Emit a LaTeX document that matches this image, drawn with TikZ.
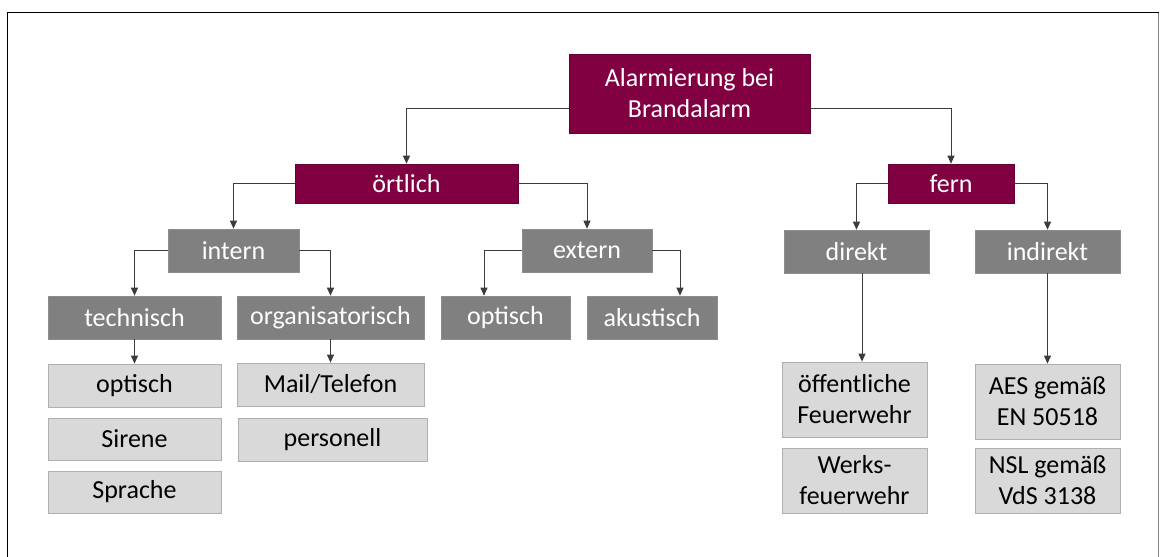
\documentclass[tikz,border=0pt]{standalone}
\usepackage{fontspec}
\setmainfont{Carlito}
\usetikzlibrary{arrows.meta,positioning,calc}
\definecolor{maroon}{RGB}{128,0,66}
\definecolor{darkgr}{RGB}{128,128,128}
\definecolor{lightgr}{RGB}{217,217,217}
\definecolor{lightbd}{RGB}{175,175,175}
\definecolor{conncol}{RGB}{60,60,60}
\tikzset{
  base/.style={rectangle, inner sep=0pt, align=center, font=\fontsize{26}{31}\selectfont},
  mbox/.style={base, fill=maroon, draw=maroon!80!black, line width=0.6pt, text=white},
  gbox/.style={base, fill=darkgr, draw=darkgr!90!white, line width=0.6pt, text=white},
  lbox/.style={base, fill=lightgr, draw=lightbd, line width=0.8pt, text=black},
  conn/.style={draw=conncol, line width=0.9pt, -{Triangle[length=8pt,width=7pt]}},
}
\begin{document}
\begin{tikzpicture}[x=1pt,y=-1pt]
\useasboundingbox (0,0) rectangle (1160,557);
\fill[white] (0,0) rectangle (1160,557);
% frame
\draw[black, line width=1.6pt] (7.5,557) -- (7.5,12.5) -- (1158.5,12.5);
\draw[gray, line width=1pt] (1158.5,12.5) -- (1158.5,557);

% nodes
\node[mbox, minimum width=241pt, minimum height=79pt] (top) at (689.5,93.5) {Alarmierung bei\\Brandalarm};
\node[mbox, minimum width=223pt, minimum height=39pt] (oert) at (406.5,183.5) {örtlich};
\node[mbox, minimum width=126pt, minimum height=39pt] (fern) at (951,183.5) {fern};

\node[gbox, minimum width=131pt, minimum height=43pt] (intern) at (233.5,250.5) {intern};
\node[gbox, minimum width=130pt, minimum height=43pt] (extern) at (587,250.5) {extern};
\node[gbox, minimum width=145pt, minimum height=43pt] (direkt) at (856.5,251.5) {direkt};
\node[gbox, minimum width=145pt, minimum height=43pt] (indirekt) at (1047.5,251.5) {indirekt};

\node[gbox, minimum width=173pt, minimum height=43pt] (techn) at (134.5,317.5) {technisch};
\node[gbox, minimum width=187pt, minimum height=43pt] (organ) at (330.5,317.5) {organisatorisch};
\node[gbox, minimum width=129pt, minimum height=43pt] (optE) at (505.5,317.5) {optisch};
\node[gbox, minimum width=130pt, minimum height=43pt] (akust) at (652,317.5) {akustisch};

\node[lbox, minimum width=173pt, minimum height=43pt] (opt) at (134.5,385.5) {optisch};
\node[lbox, minimum width=173pt, minimum height=42pt] (sirene) at (134.5,439) {Sirene};
\node[lbox, minimum width=173pt, minimum height=42pt] (sprache) at (134.5,492) {Sprache};
\node[lbox, minimum width=187pt, minimum height=43pt] (mail) at (330.5,384.5) {Mail/Telefon};
\node[lbox, minimum width=189pt, minimum height=43pt] (pers) at (332.5,439.5) {personell};

\node[lbox, minimum width=145pt, minimum height=75pt] (oeff) at (854.5,399.5) {öffentliche\\Feuerwehr};
\node[lbox, minimum width=145pt, minimum height=65pt] (werks) at (854.5,480.5) {Werks-\\feuerwehr};
\node[lbox, minimum width=145pt, minimum height=75pt] (aes) at (1047.5,401.5) {AES gemäß\\EN 50518};
\node[lbox, minimum width=145pt, minimum height=65pt] (nsl) at (1047.5,480.5) {NSL gemäß\\VdS 3138};

% connectors
\draw[conn] ([yshift=-14.5pt]top.west) -| (oert.north);
\draw[conn] ([yshift=-14.5pt]top.east) -| (fern.north);
\draw[conn] (oert.west) -| (intern.north);
\draw[conn] (oert.east) -| (extern.north);
\draw[conn] (intern.west) -| (techn.north);
\draw[conn] (intern.east) -| (organ.north);
\draw[conn] (extern.west) -| ([xshift=-21.5pt]optE.north);
\draw[conn] (extern.east) -| ([xshift=28pt]akust.north);
\draw[conn] (fern.west) -| (direkt.north);
\draw[conn] (fern.east) -| (indirekt.north);
\draw[conn] (techn.south) -- (opt.north);
\draw[conn] (organ.south) -- (mail.north);
\draw[conn] ([xshift=5.5pt]direkt.south) -- ([xshift=7.5pt]oeff.north);
\draw[conn] (indirekt.south) -- (aes.north);
\end{tikzpicture}
\end{document}
